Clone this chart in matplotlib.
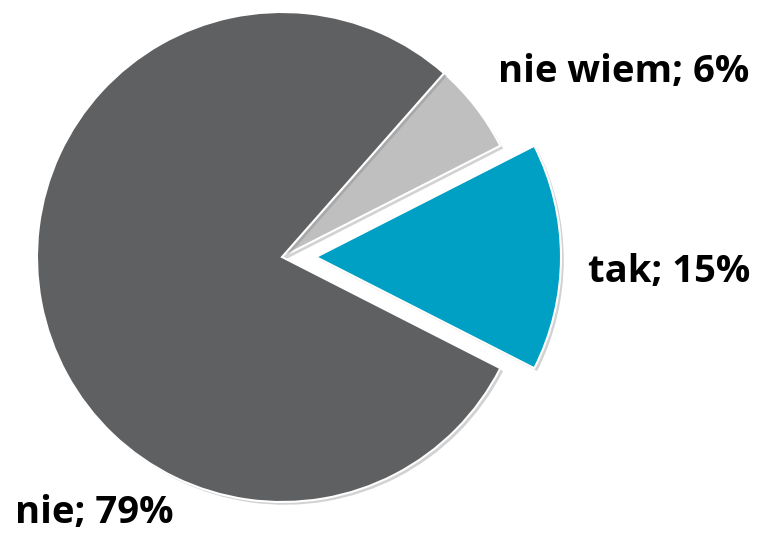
import matplotlib
matplotlib.use('Agg')
import matplotlib.pyplot as plt
import matplotlib.patheffects as pe

labels = ['tak', 'nie wiem', 'nie']
values = [15, 6, 79]
colors = ['#00a0c4', '#bfbfbf', '#5f6062']
explode = [34, 0, 0]

fig = plt.figure(figsize=(7.65, 5.33), dpi=100)
ax = fig.add_axes([0, 0, 1, 1])

wedges, _ = ax.pie(values, colors=colors, explode=explode, startangle=-27,
                   counterclock=True, center=(282, 276), radius=245,
                   wedgeprops={'edgecolor': 'white', 'linewidth': 1.5})
for w in wedges:
    w.set_path_effects([pe.SimplePatchShadow(offset=(2, -2), alpha=0.35, shadow_rgbFace='#808080'),
                        pe.Normal()])

ax.set_xlim(0, 765)
ax.set_ylim(0, 533)
ax.set_aspect('equal')
ax.axis('off')

font = dict(family='Open Sans', fontweight='bold', fontsize=27.5, color='black',
            ha='center', va='baseline')
ax.text(624, 533 - 82, f'{labels[1]}; {values[1]}%', **font)
ax.text(669, 533 - 282, f'{labels[0]}; {values[0]}%', **font)
ax.text(94, 533 - 523, f'{labels[2]}; {values[2]}%', **font)

fig.savefig('out.png', dpi=100)
